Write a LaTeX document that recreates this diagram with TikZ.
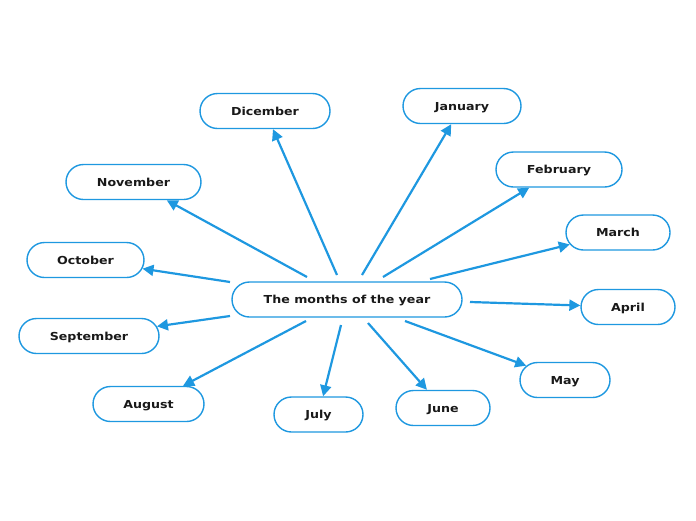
\documentclass[tikz,border=0pt]{standalone}
\usepackage{fontspec}
\setmainfont{DejaVu Sans}
\newfontfamily\mapfont[FakeStretch=1.15]{DejaVu Sans}
\usepackage{xcolor}
\usepackage{tikz}
\usetikzlibrary{shapes.misc,arrows.meta}
\definecolor{mapblue}{RGB}{30,152,224}
\tikzset{
  % --- topics ----------------------------------------------------------------
  topic/.style={rounded rectangle,draw=mapblue,line width=1.4pt,fill=white,
                minimum height=35pt,inner sep=0pt,text height=8pt,text depth=0pt,
                font=\mapfont\bfseries\fontsize{11}{13}\selectfont,
                text=black!90},
  month/.style={topic},
  % --- links -----------------------------------------------------------------
  link/.style={-{Triangle[length=11pt,width=11pt]},mapblue,line width=2.2pt},
}

\begin{document}
\begin{tikzpicture}[x=1pt, y=-1pt]
  \useasboundingbox (0,0) rectangle (696,520);

  \node[topic,minimum width=230pt] (c) at (347,299.5) {The months of the year};

  \node[month,minimum width=130pt] (dic) at (265,111)   {Dicember};
  \node[month,minimum width=118pt] (jan) at (462,106)   {January};
  \node[month,minimum width=126pt] (feb) at (559,169.5) {February};
  \node[month,minimum width=104pt] (mar) at (618,232.5) {March};
  \node[month,minimum width=94pt]  (apr) at (628,307)   {April};
  \node[month,minimum width=90pt]  (may) at (565,380)   {May};
  \node[month,minimum width=94pt]  (jun) at (443,408)   {June};
  \node[month,minimum width=89pt]  (jul) at (318.5,414.5) {July};
  \node[month,minimum width=111pt] (aug) at (148.5,404) {August};
  \node[month,minimum width=140pt] (sep) at (89,336)    {September};
  \node[month,minimum width=117pt] (oct) at (85.5,260)  {October};
  \node[month,minimum width=135pt] (nov) at (133.5,182) {November};

  \draw[link] ([shift={(-40,-22.5)}]c.center) -- (nov);
  \draw[link] ([shift={(-10,-24.5)}]c.center) -- (dic);
  \draw[link] ([shift={(15,-24.5)}]c.center)  -- (jan);
  \draw[link] ([shift={(36,-22.5)}]c.center)  -- (feb);
  \draw[link] ([shift={(83,-20.5)}]c.center)  -- (mar);
  \draw[link] ([shift={(123,2.5)}]c.center)   -- (apr);
  \draw[link] ([shift={(58,21.5)}]c.center)   -- (may);
  \draw[link] ([shift={(21,23.5)}]c.center)   -- (jun);
  \draw[link] ([shift={(-6,25.5)}]c.center)   -- (jul);
  \draw[link] ([shift={(-41,21.5)}]c.center)  -- (aug);
  \draw[link] ([shift={(-117,16.5)}]c.center) -- (sep);
  \draw[link] ([shift={(-117,-17.5)}]c.center) -- (oct);
\end{tikzpicture}
\end{document}
